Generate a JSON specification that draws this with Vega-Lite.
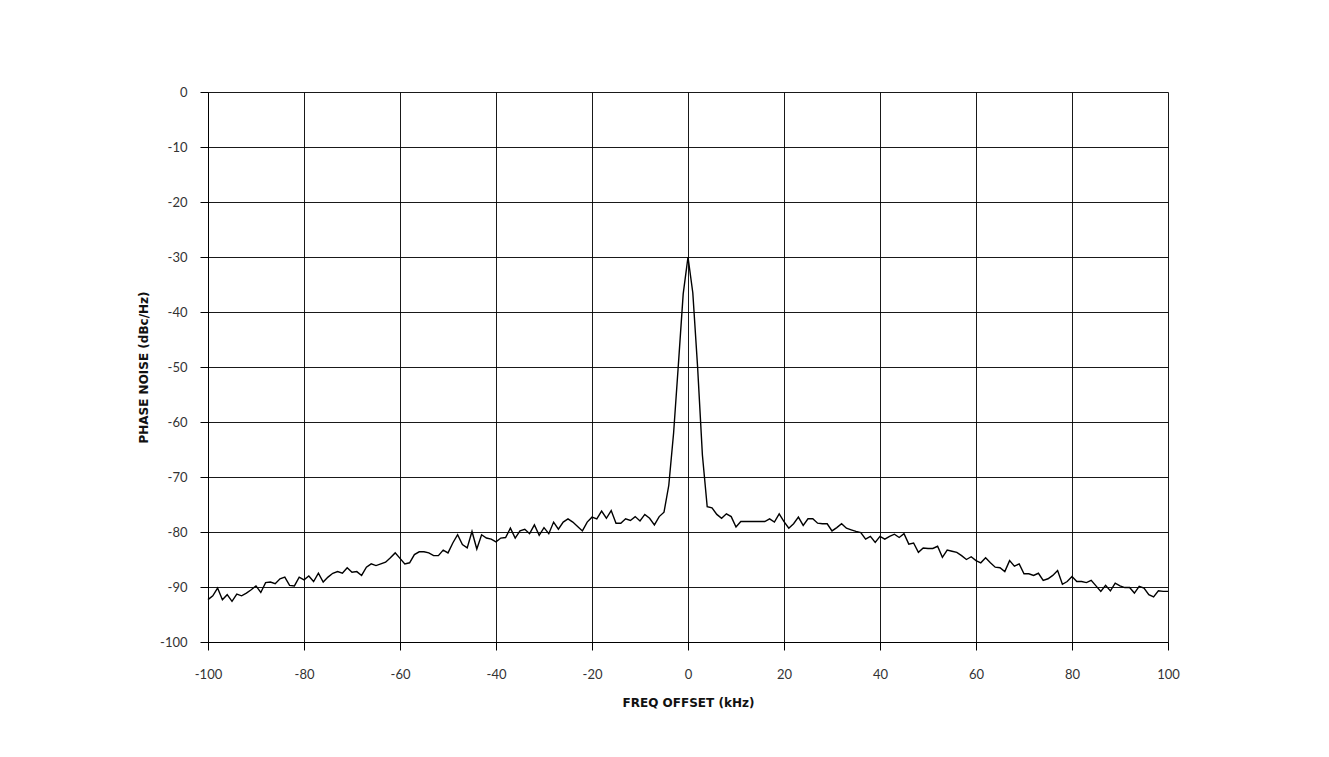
{
  "$schema": "https://vega.github.io/schema/vega-lite/v6.json",
  "width": 960,
  "height": 550,
  "autosize": {"type": "none"},
  "padding": {"left": 208, "top": 92, "right": 161, "bottom": 115},
  "background": "white",
  "config": {
    "view": {"stroke": null},
    "axis": {
      "labelFont": "Lato",
      "labelFontSize": 13,
      "labelColor": "#333",
      "titleFont": "DejaVu Sans",
      "titleFontSize": 12,
      "titleFontWeight": "bold",
      "titleColor": "#111",
      "grid": true,
      "gridColor": "#000",
      "gridOpacity": 0.9,
      "gridWidth": 1,
      "domainColor": "#000",
      "domainWidth": 1,
      "tickColor": "#000",
      "tickSize": 8,
      "tickWidth": 1
    }
  },
  "data": {
    "values": [
      {"f": -100, "pn": -92.3}, {"f": -99, "pn": -91.6}, {"f": -98, "pn": -90.2}, {"f": -97, "pn": -92.3},
      {"f": -96, "pn": -91.4}, {"f": -95, "pn": -92.6}, {"f": -94, "pn": -91.3}, {"f": -93, "pn": -91.6},
      {"f": -92, "pn": -91.1}, {"f": -91, "pn": -90.5}, {"f": -90, "pn": -89.8}, {"f": -89, "pn": -91.0},
      {"f": -88, "pn": -89.2}, {"f": -87, "pn": -89.1}, {"f": -86, "pn": -89.4}, {"f": -85, "pn": -88.5},
      {"f": -84, "pn": -88.2}, {"f": -83, "pn": -89.7}, {"f": -82, "pn": -89.8}, {"f": -81, "pn": -88.2},
      {"f": -80, "pn": -88.7}, {"f": -79, "pn": -88.0}, {"f": -78, "pn": -89.0}, {"f": -77, "pn": -87.5},
      {"f": -76, "pn": -89.1}, {"f": -75, "pn": -88.2}, {"f": -74, "pn": -87.5}, {"f": -73, "pn": -87.2},
      {"f": -72, "pn": -87.5}, {"f": -71, "pn": -86.5}, {"f": -70, "pn": -87.3}, {"f": -69, "pn": -87.2},
      {"f": -68, "pn": -87.9}, {"f": -67, "pn": -86.4}, {"f": -66, "pn": -85.8}, {"f": -65, "pn": -86.1},
      {"f": -64, "pn": -85.8}, {"f": -63, "pn": -85.5}, {"f": -62, "pn": -84.7}, {"f": -61, "pn": -83.8},
      {"f": -60, "pn": -84.8}, {"f": -59, "pn": -85.8}, {"f": -58, "pn": -85.6}, {"f": -57, "pn": -84.1},
      {"f": -56, "pn": -83.6}, {"f": -55, "pn": -83.6}, {"f": -54, "pn": -83.8}, {"f": -53, "pn": -84.3},
      {"f": -52, "pn": -84.3}, {"f": -51, "pn": -83.3}, {"f": -50, "pn": -83.8}, {"f": -49, "pn": -82.0},
      {"f": -48, "pn": -80.5}, {"f": -47, "pn": -82.3}, {"f": -46, "pn": -82.9}, {"f": -45, "pn": -79.9},
      {"f": -44, "pn": -83.1}, {"f": -43, "pn": -80.5}, {"f": -42, "pn": -81.1}, {"f": -41, "pn": -81.3},
      {"f": -40, "pn": -81.8}, {"f": -39, "pn": -81.1}, {"f": -38, "pn": -81.0}, {"f": -37, "pn": -79.3},
      {"f": -36, "pn": -81.1}, {"f": -35, "pn": -79.8}, {"f": -34, "pn": -79.5}, {"f": -33, "pn": -80.3},
      {"f": -32, "pn": -78.7}, {"f": -31, "pn": -80.6}, {"f": -30, "pn": -79.2}, {"f": -29, "pn": -80.3},
      {"f": -28, "pn": -78.2}, {"f": -27, "pn": -79.5}, {"f": -26, "pn": -78.2}, {"f": -25, "pn": -77.6},
      {"f": -24, "pn": -78.2}, {"f": -23, "pn": -79.0}, {"f": -22, "pn": -79.8}, {"f": -21, "pn": -78.2},
      {"f": -20, "pn": -77.3}, {"f": -19, "pn": -77.6}, {"f": -18, "pn": -76.2}, {"f": -17, "pn": -77.5},
      {"f": -16, "pn": -76.1}, {"f": -15, "pn": -78.4}, {"f": -14, "pn": -78.4}, {"f": -13, "pn": -77.6},
      {"f": -12, "pn": -77.9}, {"f": -11, "pn": -77.2}, {"f": -10, "pn": -78.0}, {"f": -9, "pn": -76.8},
      {"f": -8, "pn": -77.5}, {"f": -7, "pn": -78.7}, {"f": -6, "pn": -77.2}, {"f": -5, "pn": -76.4},
      {"f": -4, "pn": -71.5}, {"f": -3, "pn": -62.0}, {"f": -2, "pn": -49.5}, {"f": -1, "pn": -36.7},
      {"f": 0, "pn": -30.0}, {"f": 1, "pn": -36.5}, {"f": 2, "pn": -50.0}, {"f": 3, "pn": -66.0},
      {"f": 4, "pn": -75.4}, {"f": 5, "pn": -75.6}, {"f": 6, "pn": -76.8}, {"f": 7, "pn": -77.5},
      {"f": 8, "pn": -76.7}, {"f": 9, "pn": -77.2}, {"f": 10, "pn": -79.1}, {"f": 11, "pn": -78.1},
      {"f": 12, "pn": -78.1}, {"f": 13, "pn": -78.1}, {"f": 14, "pn": -78.1}, {"f": 15, "pn": -78.1},
      {"f": 16, "pn": -78.1}, {"f": 17, "pn": -77.6}, {"f": 18, "pn": -78.2}, {"f": 19, "pn": -76.7},
      {"f": 20, "pn": -78.1}, {"f": 21, "pn": -79.3}, {"f": 22, "pn": -78.5}, {"f": 23, "pn": -77.3},
      {"f": 24, "pn": -78.8}, {"f": 25, "pn": -77.6}, {"f": 26, "pn": -77.6}, {"f": 27, "pn": -78.4},
      {"f": 28, "pn": -78.5}, {"f": 29, "pn": -78.5}, {"f": 30, "pn": -79.8}, {"f": 31, "pn": -79.2},
      {"f": 32, "pn": -78.5}, {"f": 33, "pn": -79.3}, {"f": 34, "pn": -79.6}, {"f": 35, "pn": -79.9},
      {"f": 36, "pn": -80.1}, {"f": 37, "pn": -81.3}, {"f": 38, "pn": -80.8}, {"f": 39, "pn": -81.9},
      {"f": 40, "pn": -80.8}, {"f": 41, "pn": -81.3}, {"f": 42, "pn": -80.8}, {"f": 43, "pn": -80.4},
      {"f": 44, "pn": -81.0}, {"f": 45, "pn": -80.3}, {"f": 46, "pn": -82.2}, {"f": 47, "pn": -82.0},
      {"f": 48, "pn": -83.7}, {"f": 49, "pn": -82.9}, {"f": 50, "pn": -83.0}, {"f": 51, "pn": -83.0},
      {"f": 52, "pn": -82.6}, {"f": 53, "pn": -84.6}, {"f": 54, "pn": -83.3}, {"f": 55, "pn": -83.5},
      {"f": 56, "pn": -83.7}, {"f": 57, "pn": -84.3}, {"f": 58, "pn": -85.0}, {"f": 59, "pn": -84.5},
      {"f": 60, "pn": -85.2}, {"f": 61, "pn": -85.6}, {"f": 62, "pn": -84.7}, {"f": 63, "pn": -85.6},
      {"f": 64, "pn": -86.4}, {"f": 65, "pn": -86.5}, {"f": 66, "pn": -87.2}, {"f": 67, "pn": -85.2},
      {"f": 68, "pn": -86.2}, {"f": 69, "pn": -85.8}, {"f": 70, "pn": -87.6}, {"f": 71, "pn": -87.6},
      {"f": 72, "pn": -87.9}, {"f": 73, "pn": -87.5}, {"f": 74, "pn": -88.8}, {"f": 75, "pn": -88.5},
      {"f": 76, "pn": -87.9}, {"f": 77, "pn": -87.0}, {"f": 78, "pn": -89.5}, {"f": 79, "pn": -89.0},
      {"f": 80, "pn": -88.1}, {"f": 81, "pn": -89.0}, {"f": 82, "pn": -89.0}, {"f": 83, "pn": -89.2},
      {"f": 84, "pn": -88.8}, {"f": 85, "pn": -89.8}, {"f": 86, "pn": -90.8}, {"f": 87, "pn": -89.7},
      {"f": 88, "pn": -90.7}, {"f": 89, "pn": -89.3}, {"f": 90, "pn": -89.8}, {"f": 91, "pn": -90.1},
      {"f": 92, "pn": -90.1}, {"f": 93, "pn": -91.1}, {"f": 94, "pn": -89.9}, {"f": 95, "pn": -90.2},
      {"f": 96, "pn": -91.4}, {"f": 97, "pn": -91.8}, {"f": 98, "pn": -90.7}, {"f": 99, "pn": -90.8},
      {"f": 100, "pn": -90.8}
    ]
  },
  "mark": {"type": "line", "color": "#000", "strokeWidth": 1.4, "interpolate": "linear"},
  "encoding": {
    "x": {
      "field": "f",
      "type": "quantitative",
      "title": "FREQ OFFSET (kHz)",
      "scale": {"domain": [-100, 100], "nice": false, "zero": false},
      "axis": {"values": [-100, -80, -60, -40, -20, 0, 20, 40, 60, 80, 100], "labelExpr": "'' + datum.value", "labelPadding": 18, "titlePadding": 16, "labelFlush": false}
    },
    "y": {
      "field": "pn",
      "type": "quantitative",
      "title": "PHASE NOISE (dBc/Hz)",
      "scale": {"domain": [-100, 0], "nice": false, "zero": false},
      "axis": {"values": [-100, -90, -80, -70, -60, -50, -40, -30, -20, -10, 0], "labelExpr": "'' + datum.value", "labelPadding": 13, "titlePadding": 9}
    }
  }
}
